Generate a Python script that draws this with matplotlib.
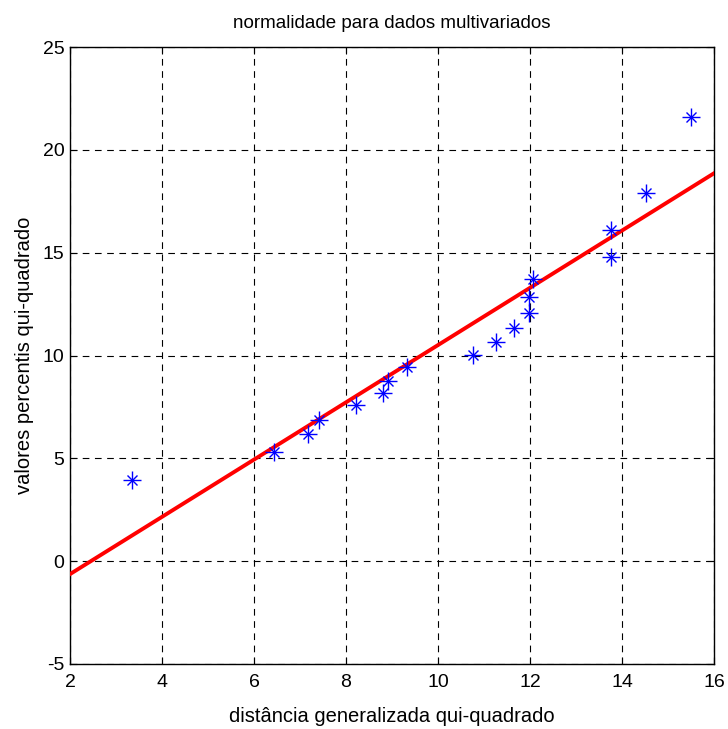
import matplotlib.pyplot as plt
from matplotlib import font_manager

# dados
dist_x = [3.35, 6.43, 7.18, 7.41, 8.21, 8.81, 8.91, 9.33, 10.75, 11.27,
          11.66, 11.98, 11.98, 12.07, 13.75, 13.75, 14.53, 15.51]
quant_y = [3.94, 5.31, 6.16, 6.85, 7.58, 8.18, 8.77, 9.45, 10.01, 10.66,
           11.36, 12.07, 12.85, 13.74, 14.79, 16.09, 17.91, 21.6]
line_x = [2, 16]
line_y = [-0.63, 18.86]
xticks = [2, 4, 6, 8, 10, 12, 14, 16]
yticks = [-5, 0, 5, 10, 15, 20, 25]

names = {f.name for f in font_manager.fontManager.ttflist}
fam = 'Liberation Sans Narrow' if 'Liberation Sans Narrow' in names else 'Liberation Sans'
plt.rcParams['font.family'] = [fam, 'DejaVu Sans']
plt.rcParams['axes.unicode_minus'] = False

fig = plt.figure(figsize=(7.28, 7.29), dpi=100)
ax = fig.add_axes([70/728, 65/729, 644/728, 617/729])

ax.plot(line_x, line_y, color='red', lw=2.8, zorder=3)
ax.plot(dist_x, quant_y, ls='none', marker='+', ms=13, mew=1.0, color='blue', zorder=4)
ax.plot(dist_x, quant_y, ls='none', marker='x', ms=7, mew=1.0, color='blue', zorder=4)

ax.set_xlim(2, 16)
ax.set_ylim(-5, 25)
ax.set_xticks(xticks)
ax.set_yticks(yticks)
ax.grid(True, color='black', ls=(0, (6, 5)), lw=0.8)
ax.tick_params(direction='in', top=True, right=True, labelsize=14, length=5)
ax.tick_params(axis='x', pad=7)
ax.tick_params(axis='y', pad=4)
for s in ax.spines.values():
    s.set_linewidth(1.0)

ax.set_title('normalidade para dados multivariados', fontsize=13.5, pad=14)
ax.set_xlabel('distância generalizada qui-quadrado', fontsize=14.5, labelpad=12)
ax.set_ylabel('valores percentis qui-quadrado', fontsize=14.5, labelpad=6)

plt.savefig('out.png', dpi=100)
